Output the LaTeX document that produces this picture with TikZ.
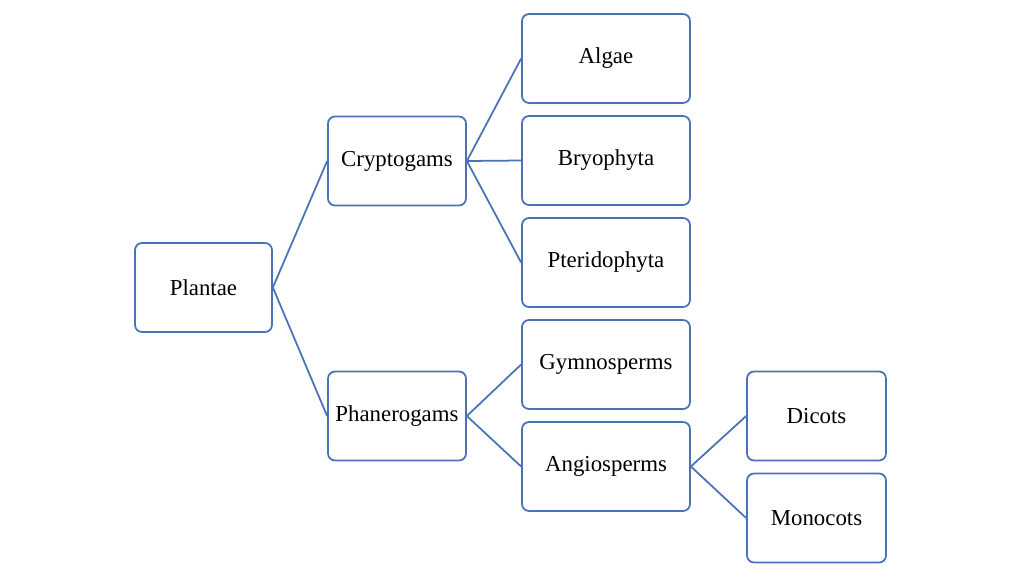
\documentclass[tikz,border=0pt]{standalone}
\usepackage{fontspec}
\setmainfont{Liberation Serif}
\definecolor{boxblue}{HTML}{4A72B8}
\tikzset{
  taxon/.style={draw=boxblue, line width=1pt, rounded corners=4pt, fill=white,
    minimum height=1.78cm, font=\fontsize{13}{15}\selectfont},
  small/.style={taxon, minimum width=2.74cm},
  wide/.style={taxon, minimum width=3.36cm},
  link/.style={draw=boxblue, line width=1pt}
}
\begin{document}
\begin{tikzpicture}[x=0.02cm,y=-0.02cm]
  \useasboundingbox (0,0) rectangle (1024,576);
  % root and first level
  \node[small] (plantae) at (203.5,287.5) {Plantae};
  \node[small, minimum width=2.76cm] (crypto) at (397,161) {Cryptogams};
  \node[small, minimum width=2.76cm] (phanero) at (397,416) {Phanerogams};
  % second level
  \node[wide] (algae) at (606,58.5) {Algae};
  \node[wide] (bryo) at (606,160.5) {Bryophyta};
  \node[wide] (pterido) at (606,262.5) {Pteridophyta};
  \node[wide] (gymno) at (606,364.5) {Gymnosperms};
  \node[wide] (angio) at (606,466.5) {Angiosperms};
  % third level
  \node[small, minimum width=2.78cm] (dicots) at (816.5,416) {Dicots};
  \node[small, minimum width=2.78cm] (monocots) at (816.5,518) {Monocots};
  % connectors
  \draw[link] (plantae.east) -- (crypto.west);
  \draw[link] (plantae.east) -- (phanero.west);
  \draw[link] (crypto.east) -- (algae.west);
  \draw[link] (crypto.east) -- (bryo.west);
  \draw[link] (crypto.east) -- (pterido.west);
  \draw[link] (phanero.east) -- (gymno.west);
  \draw[link] (phanero.east) -- (angio.west);
  \draw[link] (angio.east) -- (dicots.west);
  \draw[link] (angio.east) -- (monocots.west);
\end{tikzpicture}
\end{document}
